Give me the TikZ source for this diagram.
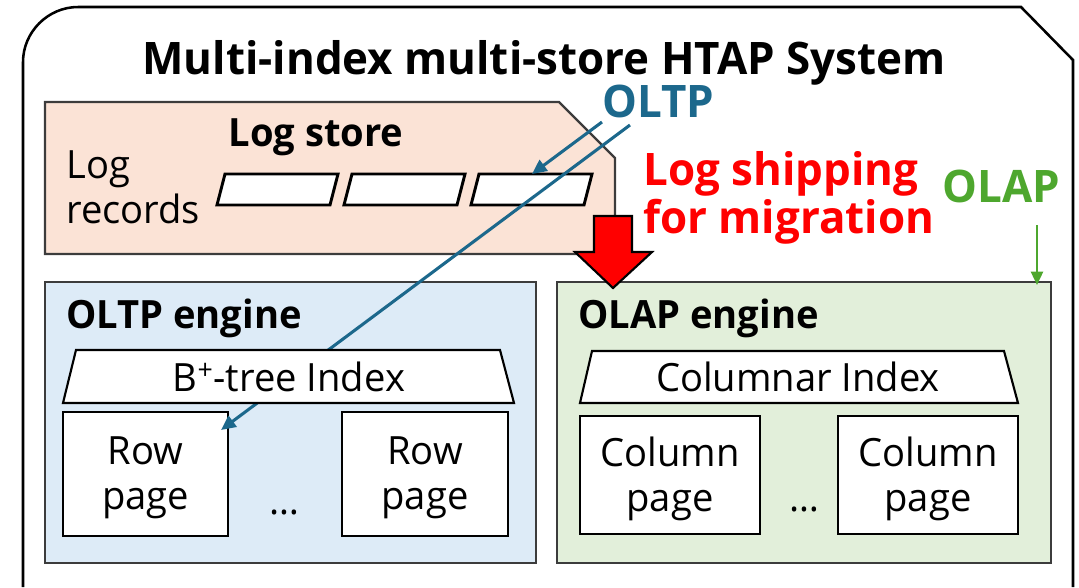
\documentclass[tikz,border=0pt]{standalone}
\usepackage{fontspec}
\setmainfont{Open Sans}[FakeStretch=0.98]
\usetikzlibrary{arrows.meta}
\definecolor{oltpblue}{RGB}{28,104,140}
\definecolor{olapgreen}{RGB}{78,167,46}
\definecolor{peach}{RGB}{251,227,214}
\definecolor{lightblue}{RGB}{221,235,247}
\definecolor{lightgreen}{RGB}{226,239,218}
\definecolor{boxline}{RGB}{60,60,60}
\newcommand{\bigfont}{\fontsize{33.6}{36}\selectfont\bfseries}
\newcommand{\midfont}{\fontsize{29.2}{33.75}\selectfont}
\begin{document}
\begin{tikzpicture}[x=0.75pt,y=-0.75pt,
  frame/.style={draw=black,line width=1.9pt},
  region/.style={draw=boxline,line width=1.6pt},
  logrec/.style={draw=black,fill=white,line width=2.2pt},
  indexbox/.style={draw=black,fill=white,line width=1.6pt},
  pagebox/.style={draw=black,fill=white,line width=1.6pt,inner sep=0pt},
  pagetext/.style={inner sep=0pt,align=center,font=\midfont},
  oltparrow/.style={draw=oltpblue,line width=2.3pt,-{Triangle[length=11pt,width=10pt]}},
  lbl/.style={inner sep=0pt}]
\useasboundingbox (0,0) rectangle (1079,587);
% outer frame
\draw[frame] (23,587) -- (23,62) .. controls (23,32) and (48,7) .. (78,7)
  -- (1021,7) -- (1073,60) -- (1073,587);
\node[lbl,anchor=base,font=\bigfont] (title) at (544,74) {Multi-index multi-store HTAP System};
% log store
\draw[region,fill=peach] (45,102) -- (559,102) -- (615,158) -- (615,254) -- (45,254) -- cycle;
\node[lbl,anchor=base,font=\midfont\bfseries] (logstore) at (316,146) {Log store};
\node[lbl,anchor=base west,font=\midfont,align=left] (logrecords) at (66,223) {Log\\records};
\draw[logrec] (225,174) -- (338,174) -- (330,205) -- (217,205) -- cycle;
\draw[logrec] (352,174) -- (465,174) -- (457,205) -- (344,205) -- cycle;
\draw[logrec] (479,174) -- (592,174) -- (584,205) -- (471,205) -- cycle;
\coordinate (rec3) at (532,174);
% engines
\draw[region,fill=lightblue] (45,282) rectangle (536,563);
\draw[region,fill=lightgreen] (557,282) rectangle (1051,563);
\node[lbl,anchor=base west,font=\midfont\bfseries] (oltpeng) at (66,328) {OLTP engine};
\node[lbl,anchor=base west,font=\midfont\bfseries] (olapeng) at (578,328) {OLAP engine};
% pages
\node[pagebox,minimum width=165*0.75pt,minimum height=124*0.75pt] (r1) at (145.5,474) {};
\node[pagetext] (r1t) at (145.5,478) {Row\\page};
\node[pagebox,minimum width=166*0.75pt,minimum height=124*0.75pt] (r2) at (425,474) {};
\node[pagetext] (r2t) at (425,478) {Row\\page};
\node[lbl,font=\midfont] (dots1) at (284,512) {\dots};
\node[pagebox,minimum width=180*0.75pt,minimum height=118*0.75pt] (c1) at (670,475) {};
\node[pagetext] (c1t) at (670,479) {Column\\page};
\node[pagebox,minimum width=180*0.75pt,minimum height=118*0.75pt] (c2) at (928,475) {};
\node[pagetext] (c2t) at (928,479) {Column\\page};
\node[lbl,font=\midfont] (dots2) at (804,509) {\dots};
% OLTP labels and arrows
\node[lbl,anchor=base west,font=\bigfont,text=oltpblue] (oltp) at (602,117) {OLTP};
\coordinate (oltpA) at (602,122);
\coordinate (oltpB) at (630,125);
\coordinate (rowtip) at (221,430);
\draw[oltparrow] (oltpA) -- (rec3);
\draw[oltparrow] (oltpB) -- (rowtip);
% index trapezoids
\draw[indexbox] (76,350) -- (500,350) -- (514,403) -- (63,403) -- cycle;
\node[lbl,font=\midfont] (btree) at (289,377) {B\textsuperscript{+}-tree Index};
\draw[indexbox] (592,351) -- (1004,351) -- (1018,403) -- (580,403) -- cycle;
\node[lbl,font=\midfont] (colidx) at (798,377) {Columnar Index};
% log shipping
\draw[draw=black,fill=red,line width=1.6pt] (594,216) -- (632,216) -- (632,252) -- (652,252)
  -- (613,288) -- (575,252) -- (594,252) -- cycle;
\node[lbl,anchor=base west,font=\bigfont,text=red,align=left] (ship) at (643,233)
  {Log shipping\\for migration};
% OLAP label and arrow
\node[lbl,anchor=base west,font=\bigfont,text=olapgreen] (olap) at (942,202) {OLAP};
\coordinate (olapA) at (1037,225);
\coordinate (olapB) at (1037,285);
\draw[draw=olapgreen,line width=1.8pt,-{Triangle[length=10pt,width=9pt]}] (olapA) -- (olapB);
\end{tikzpicture}
\end{document}
